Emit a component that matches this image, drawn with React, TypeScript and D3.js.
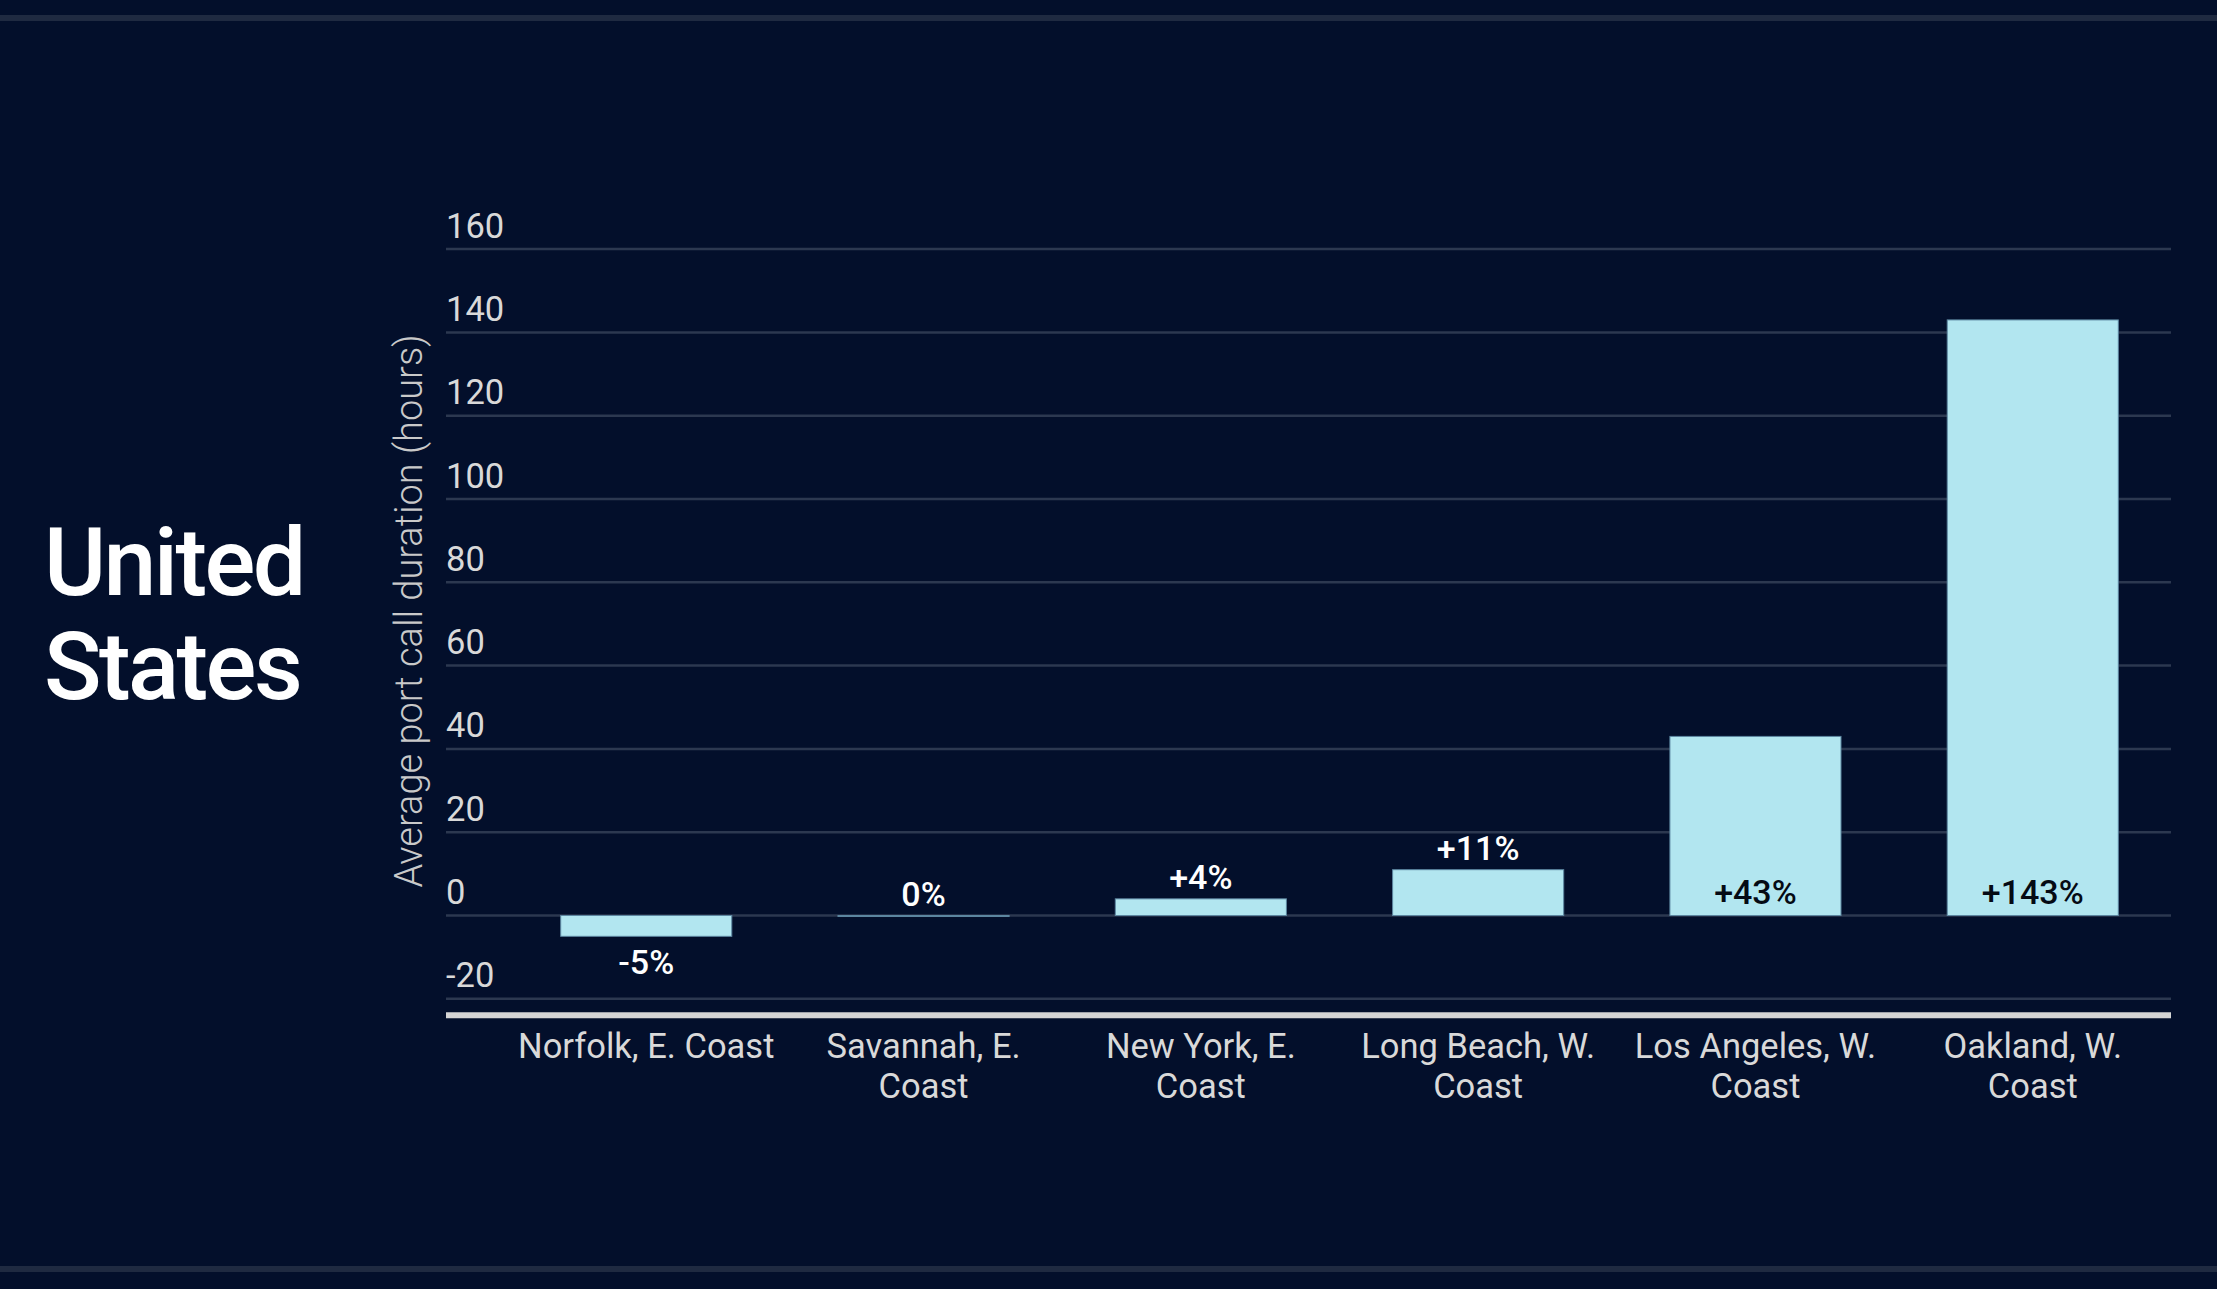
import React, { useMemo } from "react";
import * as d3 from "d3";

const W = 2217;
const H = 1289;

const categories = [
  "Norfolk, E. Coast",
  "Savannah, E. Coast",
  "New York, E. Coast",
  "Long Beach, W. Coast",
  "Los Angeles, W. Coast",
  "Oakland, W. Coast",
];
const values = [-5, 0, 4, 11, 43, 143];
const valueLabels = ["-5%", "0%", "+4%", "+11%", "+43%", "+143%"];
const yTicks = [-20, 0, 20, 40, 60, 80, 100, 120, 140, 160];
const titleLines = ["United", "States"];
const yAxisTitle = "Average port call duration (hours)";

const BG = "#030f2b";
const FONT = "Roboto, 'Noto Sans', sans-serif";

function wrapLabel(text: string, maxWidth: number, font: string): string[] {
  const canvas = document.createElement("canvas");
  const ctx = canvas.getContext("2d");
  if (!ctx) return [text];
  ctx.font = font;
  const words = text.split(" ");
  const lines: string[] = [];
  let cur = "";
  for (const w of words) {
    const test = cur ? cur + " " + w : w;
    if (ctx.measureText(test).width > maxWidth && cur) {
      lines.push(cur);
      cur = w;
    } else {
      cur = test;
    }
  }
  if (cur) lines.push(cur);
  return lines;
}

export default function App() {
  const gridX0 = 446;
  const gridX1 = 2171;

  const y = d3.scaleLinear().domain([-20, 160]).range([998.8, 249.1]);
  const x = d3
    .scaleBand<string>()
    .domain(categories)
    .range([508, 2171])
    .paddingInner(0.383)
    .paddingOuter(0.19);

  const catFontSize = 34.5;
  const wrapped = useMemo(
    () => categories.map((c) => wrapLabel(c, 270, `400 ${catFontSize}px Roboto`)),
    []
  );

  return (
    <svg
      width={W}
      height={H}
      style={{ position: "absolute", left: 0, top: 0, display: "block" }}
      fontFamily={FONT}
    >
      <rect x={0} y={0} width={W} height={H} fill={BG} />
      <rect x={0} y={15} width={W} height={6} fill="#1f2a41" />
      <rect x={0} y={1266} width={W} height={6} fill="#1f2a41" />

      {/* Title */}
      <text fill="#ffffff" fontSize={95} fontWeight={500} letterSpacing={-2.6}>
        {titleLines.map((l, i) => (
          <tspan key={i} x={44} y={595 + i * 103.5}>
            {l}
          </tspan>
        ))}
      </text>

      {/* Y axis title */}
      <text
        transform={`translate(422,611) rotate(-90)`}
        textAnchor="middle"
        fill="#c9c9c9"
        fontSize={38}
        fontWeight={300}
      >
        {yAxisTitle}
      </text>

      {/* Gridlines and tick labels */}
      {yTicks.map((t) => (
        <g key={t}>
          <line
            x1={gridX0}
            x2={gridX1}
            y1={y(t)}
            y2={y(t)}
            stroke="#2c3850"
            strokeWidth={2.5}
          />
          <text
            x={gridX0}
            y={y(t) - 11.5}
            fill="#d9d9d9"
            fontSize={34.5}
            fontWeight={400}
          >
            {t}
          </text>
        </g>
      ))}

      {/* Bars */}
      {categories.map((c, i) => {
        const v = values[i];
        const y0 = y(0);
        const yv = y(v);
        const top = Math.min(y0, yv);
        const h = Math.max(Math.abs(yv - y0), 1);
        return (
          <rect
            key={c}
            x={x(c)}
            y={top}
            width={x.bandwidth()}
            height={h}
            fill="#b2e6f0"
            stroke="#5c86a0"
            strokeWidth={1}
          />
        );
      })}

      {/* Value labels */}
      {categories.map((c, i) => {
        const v = values[i];
        const cx = (x(c) ?? 0) + x.bandwidth() / 2;
        let ly: number;
        let fill = "#ffffff";
        if (v < 0) {
          ly = y(v) + 38;
        } else if (v > 30) {
          ly = y(0) - 12;
          fill = "#050a14";
        } else {
          ly = y(v) - 9.5;
        }
        return (
          <text
            key={c}
            x={cx}
            y={ly}
            textAnchor="middle"
            fill={fill}
            fontSize={34}
            fontWeight={500}
          >
            {valueLabels[i]}
          </text>
        );
      })}

      {/* X axis baseline */}
      <line
        x1={gridX0}
        x2={gridX1}
        y1={1015.3}
        y2={1015.3}
        stroke="#d5d5d5"
        strokeWidth={6}
      />

      {/* Category labels */}
      {categories.map((c, i) => {
        const cx = (x(c) ?? 0) + x.bandwidth() / 2;
        return (
          <text
            key={c}
            textAnchor="middle"
            fill="#d9d9d9"
            fontSize={catFontSize}
            fontWeight={400}
          >
            {wrapped[i].map((l, j) => (
              <tspan key={j} x={cx} y={1058.3 + j * 40}>
                {l}
              </tspan>
            ))}
          </text>
        );
      })}
    </svg>
  );
}
